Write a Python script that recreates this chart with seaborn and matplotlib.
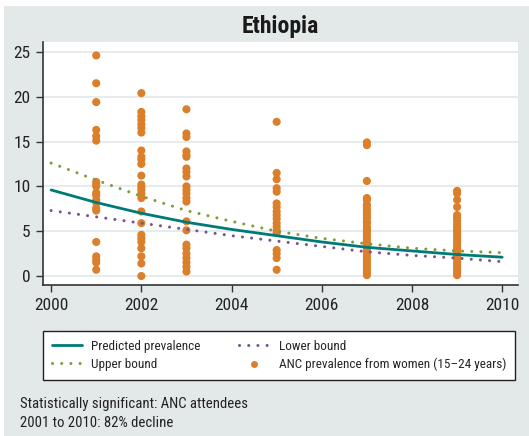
import numpy as np
import pandas as pd
import seaborn as sns
import matplotlib
matplotlib.use("Agg")
from matplotlib import pyplot as plt
from matplotlib.patches import Rectangle
from matplotlib.lines import Line2D

# model curves, one value per year
years = [2000, 2001, 2002, 2003, 2004, 2005, 2006, 2007, 2008, 2009, 2010]
predicted = [9.6, 8.2, 7.0, 6.0, 5.2, 4.5, 3.8, 3.2, 2.8, 2.4, 2.1]
upper = [12.6, 10.7, 8.9, 7.3, 6.1, 5.0, 4.2, 3.6, 3.1, 2.8, 2.6]
lower = [7.3, 6.6, 5.9, 5.2, 4.5, 3.9, 3.3, 2.7, 2.3, 2.0, 1.6]

# ANC site prevalence points by survey year
anc_2001 = [24.6, 21.5, 19.4, 16.3, 15.6, 15.1, 10.5, 10.2, 10.0, 9.3, 9.0,
            8.5, 8.2, 7.6, 7.3, 3.8, 2.2, 1.8, 1.5, 0.7]
anc_2002 = [20.4, 18.3, 17.8, 17.4, 16.9, 16.5, 16.0, 14.0, 13.3, 13.0, 12.5,
            11.2, 10.2, 9.9, 9.6, 9.2, 8.7, 7.2, 5.9, 4.6, 4.2, 3.8, 3.1,
            2.2, 1.4, 0.0]
anc_2003 = [18.6, 15.9, 15.5, 13.9, 13.5, 13.3, 12.0, 11.6, 11.1, 10.0, 9.6,
            9.2, 8.7, 8.3, 6.1, 5.1, 3.5, 3.1, 2.5, 2.0, 1.5, 1.0, 0.5]
anc_2005 = [17.2, 11.5, 10.8, 9.8, 9.4, 8.1, 7.7, 7.2, 6.8, 6.4, 5.9, 5.5,
            5.1, 4.8, 2.9, 2.5, 2.0, 0.7]
anc_2007 = [14.9, 14.6, 10.6, 8.7, 8.5, 8.0, 7.8, 7.4, 7.1, 6.8, 6.5, 6.1,
            5.9, 5.5, 5.2, 4.9, 4.6, 4.3, 4.0, 3.7, 3.4, 3.1, 2.8, 2.5, 2.2,
            1.9, 1.6, 1.3, 1.0, 0.7, 0.4, 0.1]
anc_2009 = [9.5, 9.2, 8.5, 7.7, 6.8, 6.5, 6.2, 5.8, 5.5, 5.2, 4.9, 4.6, 4.3,
            4.0, 3.7, 3.4, 3.1, 2.8, 2.5, 2.2, 1.9, 1.6, 1.3, 1.0, 0.7, 0.4,
            0.1]

x_ticks = [2000, 2002, 2004, 2006, 2008, 2010]
y_ticks = [0, 5, 10, 15, 20, 25]

TEAL = "#007a78"
GREEN = "#7a9e3a"
PURPLE = "#75548f"
ORANGE = "#db7f2b"
PANEL = "#e3e8e8"
DOTS = (0, (0.01, 3.0))

sns.set_style("white")
plt.rcParams['font.family'] = ['Liberation Sans Narrow', 'Roboto Condensed',
                               'Roboto', 'DejaVu Sans']

curves = pd.DataFrame({"year": years, "predicted": predicted,
                       "upper": upper, "lower": lower})

anc = pd.concat([
    pd.DataFrame({"year": y, "prev": v}) for y, v in
    [(2001, anc_2001), (2002, anc_2002), (2003, anc_2003),
     (2005, anc_2005), (2007, anc_2007), (2009, anc_2009)]
], ignore_index=True)

fig = plt.figure(figsize=(5.29, 4.36), dpi=100, facecolor="white")
# grey panel behind everything
fig.patches.append(Rectangle((4 / 529, 0), 1, (436 - 6) / 436,
                             transform=fig.transFigure, facecolor=PANEL,
                             edgecolor="none", zorder=-10))

ax = fig.add_axes([43 / 529, 1 - 285 / 436, (518 - 43) / 529, (285 - 42) / 436])
ax.set_facecolor("white")

sns.scatterplot(data=anc, x="year", y="prev", ax=ax, color=ORANGE, s=34,
                edgecolor="none", zorder=3)
sns.lineplot(data=curves, x="year", y="predicted", ax=ax, color=TEAL, lw=2.0,
             zorder=4)
sns.lineplot(data=curves, x="year", y="upper", ax=ax, color=GREEN, lw=2.2,
             linestyle=DOTS, dash_capstyle="round", zorder=4)
sns.lineplot(data=curves, x="year", y="lower", ax=ax, color=PURPLE, lw=2.2,
             linestyle=DOTS, dash_capstyle="round", zorder=4)

ax.set_xlim(1999.82, 2010.35)
ax.set_ylim(-1.0, 26.1)
ax.set_xticks(x_ticks)
ax.set_yticks(y_ticks)
ax.set_xlabel("")
ax.set_ylabel("")
ax.grid(axis="y", color="#e2e8e8", lw=1.2)
ax.set_axisbelow(True)
for s in ["top", "right"]:
    ax.spines[s].set_visible(False)
for s in ["left", "bottom"]:
    ax.spines[s].set_color("#333333")
    ax.spines[s].set_linewidth(1.2)
ax.tick_params(axis="both", direction="out", length=5, width=1, color="#333333",
               labelsize=12.5, labelcolor="#222222", pad=4, left=True, bottom=True)

fig.text((43 + 518) / 2 / 529, 1 - 27 / 436, "Ethiopia", ha="center", va="center",
         fontsize=17, fontweight="bold", color="#1a1a1a")

handles = [
    Line2D([], [], color=TEAL, lw=2.0),
    Line2D([], [], color=GREEN, lw=2.2, linestyle=DOTS, dash_capstyle="round"),
    Line2D([], [], color=PURPLE, lw=2.2, linestyle=DOTS, dash_capstyle="round"),
    Line2D([], [], color=ORANGE, marker="o", linestyle="none", markersize=5,
           markeredgecolor="none"),
]
labels = ["Predicted prevalence", "Upper bound", "Lower bound",
          "ANC prevalence from women (15\u201324 years)"]
leg = fig.legend(handles, labels, ncol=2, loc="center",
                 bbox_to_anchor=(279 / 529, 1 - 355.5 / 436),
                 frameon=True, fancybox=False, framealpha=1,
                 edgecolor="#222222", fontsize=9.5,
                 handlelength=2.3, columnspacing=2.9, labelspacing=0.37,
                 borderpad=0.65, handletextpad=0.7)
leg.get_frame().set_linewidth(1.0)
leg.get_frame().set_facecolor("white")

fig.text(20 / 529, 1 - 404 / 436, "Statistically significant: ANC attendees",
         ha="left", va="center", fontsize=10.6, color="#222222")
fig.text(20 / 529, 1 - 423 / 436, "2001 to 2010: 82% decline",
         ha="left", va="center", fontsize=10.6, color="#222222")

fig.savefig("out.png", dpi=100, facecolor=fig.get_facecolor())
